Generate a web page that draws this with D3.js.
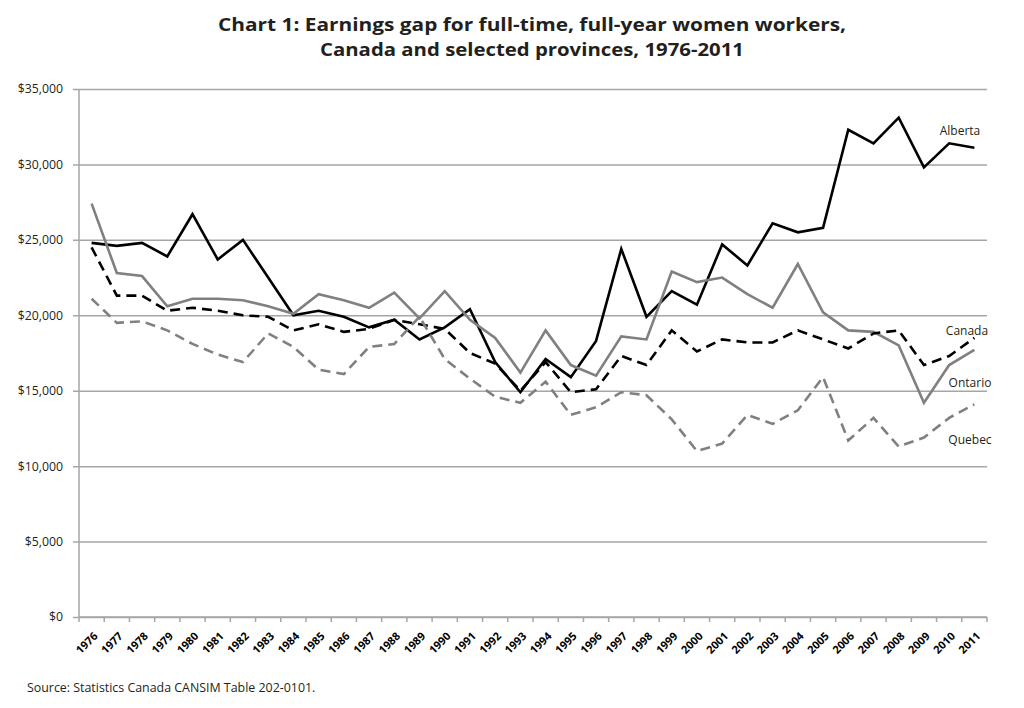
<!DOCTYPE html>
<html>
<head>
<meta charset="utf-8">
<script src="https://cdn.jsdelivr.net/npm/d3@7"></script>
<style>
  body { margin: 0; background: #fff; }
  svg { display: block; }
</style>
</head>
<body>
<svg class="chart"></svg>
<script>
// earnings gap chart

var years = d3.range(1976, 2012).map(String);
var alberta = [24800, 24600, 24800, 23900, 26700, 23700, 25000, 22500, 20000, 20300,
  19900, 19200, 19700, 18400, 19200, 20400, 16900, 14900, 17100, 15900,
  18300, 24400, 19900, 21600, 20700, 24700, 23300, 26100, 25500, 25800,
  32300, 31400, 33100, 29800, 31400, 31100];
var ontario = [27400, 22800, 22600, 20600, 21100, 21100, 21000, 20600, 20100, 21400,
  21000, 20500, 21500, 19800, 21600, 19700, 18500, 16200, 19000, 16700,
  16000, 18600, 18400, 22900, 22200, 22500, 21400, 20500, 23400, 20200,
  19000, 18900, 18000, 14200, 16700, 17700];
var canada = [24500, 21300, 21300, 20300, 20500, 20300, 20000, 19900, 19000, 19400,
  18900, 19100, 19700, 19400, 19100, 17500, 16800, 15000, 16900, 14900,
  15100, 17300, 16700, 19000, 17600, 18400, 18200, 18200, 19000, 18400,
  17800, 18800, 19000, 16700, 17300, 18500];
var quebec = [21100, 19500, 19600, 19000, 18100, 17400, 16900, 18800, 17900, 16400,
  16100, 17900, 18100, 19900, 17100, 15800, 14600, 14200, 15600, 13400,
  13900, 14900, 14700, 13100, 11000, 11500, 13400, 12800, 13700, 15900,
  11700, 13200, 11300, 11900, 13200, 14100];
var yTicks = [0, 5000, 10000, 15000, 20000, 25000, 30000, 35000];

var series = [
  { name: "Alberta", values: alberta, color: "#000", dash: null, labelX: 960, labelY: 131 },
  { name: "Ontario", values: ontario, color: "#808080", dash: null, labelX: 970, labelY: 383 },
  { name: "Canada", values: canada, color: "#000", dash: "10,6", labelX: 967, labelY: 331 },
  { name: "Quebec", values: quebec, color: "#808080", dash: "10,6", labelX: 970, labelY: 440 }
];

var width = 1024, height = 708;
var margin = { top: 89, right: 37, bottom: 91, left: 79 };
var font = "'Open Sans', 'DejaVu Sans', sans-serif";

var svg = d3.select(".chart")
  .attr("width", width)
  .attr("height", height);

var x = d3.scaleBand()
  .domain(years)
  .range([margin.left, width - margin.right])
  .padding(0);

var y = d3.scaleLinear()
  .domain([0, 35000])
  .range([height - margin.bottom, margin.top]);

// title
var title = svg.append("g")
  .attr("text-anchor", "middle")
  .style("font-family", font)
  .style("font-weight", "bold")
  .style("font-size", "18.5px")
  .attr("fill", "#231f20");
title.append("text")
  .attr("x", 532).attr("y", 31)
  .attr("textLength", 628).attr("lengthAdjust", "spacingAndGlyphs")
  .text("Chart 1: Earnings gap for full-time, full-year women workers,");
title.append("text")
  .attr("x", 532).attr("y", 56)
  .attr("textLength", 424).attr("lengthAdjust", "spacingAndGlyphs")
  .text("Canada and selected provinces, 1976-2011");

// gridlines + y axis
var yAxis = svg.append("g")
  .attr("transform", "translate(" + margin.left + ",0)")
  .call(d3.axisLeft(y)
    .tickValues(yTicks)
    .tickSize(-(width - margin.left - margin.right))
    .tickSizeOuter(0)
    .tickPadding(16)
    .tickFormat(function(d) { return "$" + d3.format(",")(d); }));
yAxis.select(".domain").remove();
yAxis.selectAll(".tick line")
  .attr("x1", -6)
  .attr("stroke", "#a6a6a6")
  .attr("stroke-width", 1.5);
yAxis.selectAll(".tick text")
  .attr("fill", "#231f20")
  .style("font-family", font)
  .style("font-size", "12.3px");

svg.append("line")
  .attr("x1", margin.left).attr("x2", margin.left)
  .attr("y1", margin.top).attr("y2", height - margin.bottom)
  .attr("stroke", "#a6a6a6")
  .attr("stroke-width", 1.5);

// x axis
var bottom = height - margin.bottom;
svg.append("line")
  .attr("x1", margin.left).attr("x2", width - margin.right)
  .attr("y1", bottom).attr("y2", bottom)
  .attr("stroke", "#a6a6a6")
  .attr("stroke-width", 1.5);

var edges = years.map(function(d) { return x(d); }).concat([x.range()[1]]);
svg.append("g").selectAll("line")
  .data(edges)
  .join("line")
  .attr("x1", function(d) { return d; })
  .attr("x2", function(d) { return d; })
  .attr("y1", bottom)
  .attr("y2", bottom + 5)
  .attr("stroke", "#a6a6a6")
  .attr("stroke-width", 1.5);

var xAxis = svg.append("g")
  .attr("transform", "translate(0," + bottom + ")")
  .call(d3.axisBottom(x).tickSize(0).tickPadding(0));
xAxis.select(".domain").remove();
xAxis.selectAll(".tick text")
  .attr("text-anchor", "end")
  .attr("transform", "translate(4,17) rotate(-45)")
  .attr("dy", "0.35em")
  .attr("fill", "#000")
  .style("font-family", font)
  .style("font-weight", "bold")
  .style("font-size", "11px");

// lines
var line = function(values) {
  return d3.line()
    .x(function(d, i) { return x(years[i]) + x.bandwidth() / 2; })
    .y(function(d) { return y(d); })(values);
};

svg.append("g").selectAll("path")
  .data(series)
  .join("path")
  .attr("d", function(d) { return line(d.values); })
  .attr("fill", "none")
  .attr("stroke", function(d) { return d.color; })
  .attr("stroke-width", 2.6)
  .attr("stroke-dasharray", function(d) { return d.dash; })
  .attr("stroke-linejoin", "miter");

svg.append("g").selectAll("text")
  .data(series)
  .join("text")
  .attr("x", function(d) { return d.labelX; })
  .attr("y", function(d) { return d.labelY; })
  .attr("dy", "0.35em")
  .attr("text-anchor", "middle")
  .attr("fill", "#231f20")
  .style("font-family", font)
  .style("font-size", "12px")
  .text(function(d) { return d.name; });

svg.append("text")
  .attr("x", 27)
  .attr("y", 692)
  .attr("fill", "#231f20")
  .style("font-family", font)
  .style("font-size", "12.4px")
  .text("Source: Statistics Canada CANSIM Table 202-0101.");
</script>
</body>
</html>
